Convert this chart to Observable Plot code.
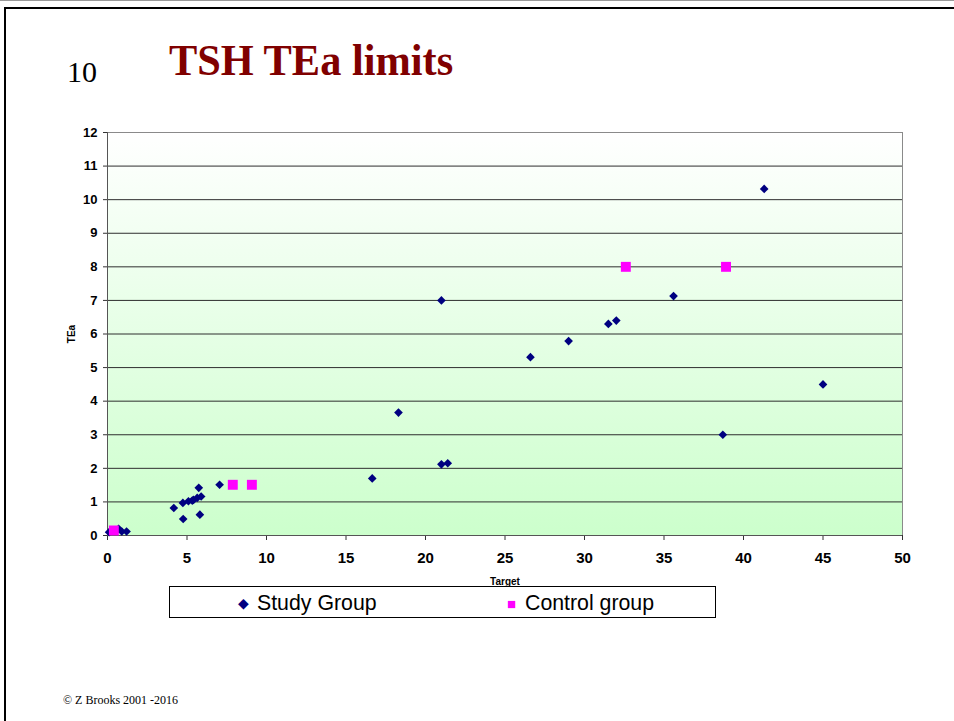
<!DOCTYPE html>
<html>
<head>
<meta charset="utf-8">
<script src="https://cdn.jsdelivr.net/npm/d3@7"></script>
<script src="https://cdn.jsdelivr.net/npm/@observablehq/plot@0.6"></script>
<style>
  html, body { margin: 0; padding: 0; background: #fff; }
  #page { position: relative; width: 954px; height: 721px; overflow: hidden; background: #fff; }
  #topgray { position: absolute; left: 0; top: 0; width: 954px; height: 1px; background: #9a9a9a; }
  #slideborder { position: absolute; left: 4px; top: 7px; width: 980px; height: 800px; border-top: 2.5px solid #000; border-left: 2.5px solid #000; }
  #num { position: absolute; left: 67px; top: 57px; font: 30px/1 "Liberation Serif", "Times New Roman", serif; color: #000; }
  #title { position: absolute; left: 169px; top: 39px; font: bold 44px/1 "Liberation Serif", "Times New Roman", serif; color: #800000; white-space: nowrap; transform: scaleX(0.963); transform-origin: 0 0; }
  #chart { position: absolute; left: 0; top: 0; }
  #legend { position: absolute; left: 169px; top: 586px; width: 547px; height: 32px; border: 1px solid #000; box-sizing: border-box; font: 21.3px "Liberation Sans", Arial, sans-serif; color: #000; }
  .li { position: absolute; top: 3px; white-space: nowrap; }
  #footer { position: absolute; left: 63px; top: 693px; font: 12px "Liberation Serif", "Times New Roman", serif; color: #000; }
  g[aria-label="y-axis label"] text, g[aria-label="x-axis label"] text { font-size: 10px; }
  g[aria-label="x-axis tick label"] text { font-size: 15px; }
</style>
</head>
<body>
<div id="page">
  <div id="topgray"></div>
  <div id="slideborder"></div>
  <div id="num">10</div>
  <div id="title">TSH TEa limits</div>
  <div id="chart"></div>
  <div id="legend"></div>
  <div id="footer">© Z Brooks 2001 -2016</div>
</div>
<script>
// ---- data ----
const studyX = [21.0, 41.3, 45.0, 38.7, 35.6, 32.0, 31.5, 29.0, 26.6, 18.3, 16.65, 21.0, 21.4, 7.05,
                4.17, 4.74, 4.76, 5.09, 5.33, 5.41, 5.64, 5.74, 5.89, 5.81,
                0.1, 0.5, 0.7, 0.9, 1.2];
const studyY = [7.0, 10.32, 4.5, 3.0, 7.13, 6.4, 6.3, 5.79, 5.31, 3.66, 1.70, 2.12, 2.15, 1.51,
                0.82, 0.97, 0.49, 1.02, 1.04, 1.06, 1.12, 1.42, 1.16, 0.62,
                0.1, 0.15, 0.2, 0.12, 0.12];
const controlX = [0.4, 7.88, 9.08, 32.6, 38.9];
const controlY = [0.15, 1.51, 1.51, 8.0, 8.0];
const xTicks = [0, 5, 10, 15, 20, 25, 30, 35, 40, 45, 50];
const yTicks = [0, 1, 2, 3, 4, 5, 6, 7, 8, 9, 10, 11, 12];
const seriesNames = ["Study Group", "Control group"];
const seriesColors = ["#000080", "#ff00ff"];

const study = studyX.map((x, i) => ({x, y: studyY[i]}));
const control = controlX.map((x, i) => ({x, y: controlY[i]}));

const svg = Plot.plot({
  width: 954,
  height: 600,
  marginLeft: 107,
  marginRight: 52,
  marginTop: 132,
  marginBottom: 65,
  style: {fontFamily: '"Liberation Sans", Arial, sans-serif', fontSize: "13px", fontWeight: "bold", color: "#000", background: "transparent", overflow: "visible"},
  x: {domain: [0, 50], ticks: xTicks},
  y: {domain: [0, 12], ticks: yTicks},
  marks: [
    Plot.frame({fill: "url(#bggrad)", stroke: null}),
    Plot.gridY(yTicks, {stroke: "#2e2e2e", strokeOpacity: 1, strokeWidth: 1}),
    Plot.frame({stroke: "#8a8a8a", fill: null}),
    Plot.axisX({ticks: xTicks, tickSize: 5, tickPadding: 12, stroke: "#333", label: "Target", labelAnchor: "center", labelOffset: 49, labelArrow: "none"}),
    Plot.axisY({ticks: yTicks, tickSize: 4, tickPadding: 6, stroke: "#333", label: "TEa", labelAnchor: "center", labelOffset: 40, labelArrow: "none"}),
    Plot.ruleY([0], {stroke: "#555"}),
    Plot.ruleX([0], {stroke: "#555"}),
    Plot.dot(study, {x: "x", y: "y", symbol: "diamond2", r: 3.9, fill: seriesColors[0], stroke: null}),
    Plot.dot(control, {x: "x", y: "y", symbol: "square", r: 5.6, fill: seriesColors[1], stroke: null})
  ]
});

const defs = d3.select(svg).insert("defs", ":first-child");
const grad = defs.append("linearGradient").attr("id", "bggrad")
  .attr("x1", 0).attr("y1", 0).attr("x2", 0).attr("y2", 1);
grad.append("stop").attr("offset", "0%").attr("stop-color", "#ffffff");
grad.append("stop").attr("offset", "100%").attr("stop-color", "#ccffcc");

document.getElementById("chart").appendChild(svg);

// legend
const legend = document.getElementById("legend");
const legendPos = [{m: 68, t: 87}, {m: 337, t: 355}];
const legendSym = ["◆", "■"];
const legendSize = ["14px", "15px"];
seriesNames.forEach((name, i) => {
  const m = document.createElement("span");
  m.className = "li";
  m.style.left = legendPos[i].m + "px";
  m.style.top = "8px";
  m.style.fontSize = legendSize[i];
  m.style.color = seriesColors[i];
  m.textContent = legendSym[i];
  legend.appendChild(m);
  const t = document.createElement("span");
  t.className = "li";
  t.style.left = legendPos[i].t + "px";
  t.style.top = "3.5px";
  t.textContent = name;
  legend.appendChild(t);
});
</script>
</body>
</html>
